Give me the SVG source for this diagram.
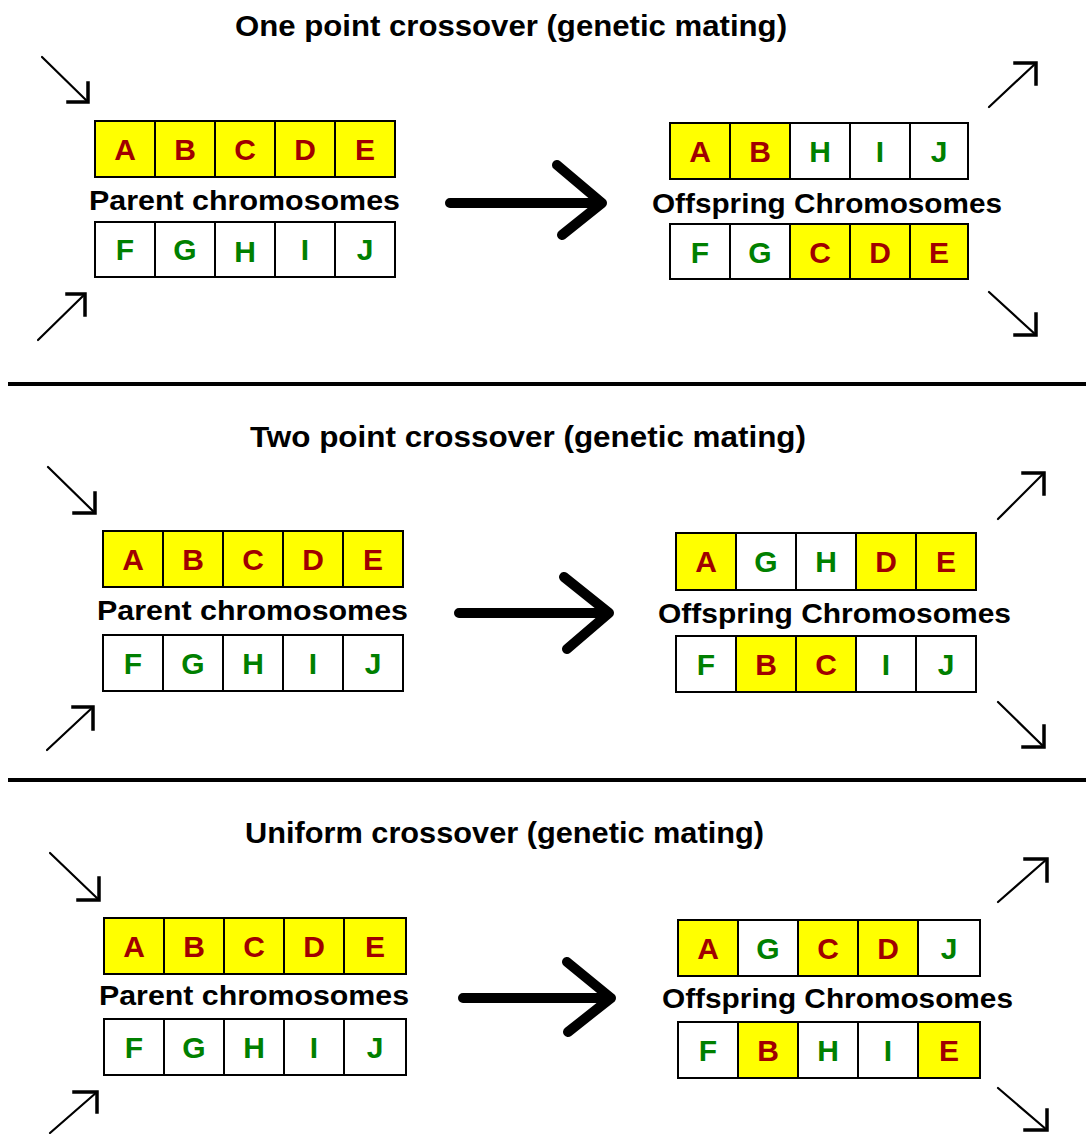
<svg xmlns="http://www.w3.org/2000/svg" width="1086" height="1134" viewBox="0 0 1086 1134">
  <style>
    .title { font-family: "Liberation Sans", Arial, sans-serif; font-weight: bold; font-size: 29px; fill: #000; }
    .label { font-family: "Liberation Sans", Arial, sans-serif; font-weight: bold; font-size: 28px; fill: #000; }
    .cell { stroke: #000; stroke-width: 2; }
    .y { fill: #ffff00; }
    .w { fill: #ffffff; }
    .gene { font-family: "Liberation Sans", Arial, sans-serif; font-weight: bold; font-size: 30px; text-anchor: middle; }
    .r { fill: #a00000; }
    .g { fill: #008000; }
    .shaft { fill: none; stroke: #000; stroke-width: 2.2; stroke-linecap: round; }
    .head { fill: none; stroke: #000; stroke-width: 3.5; stroke-linecap: square; }
    .big { fill: none; stroke: #000; stroke-width: 10; stroke-linecap: round; stroke-linejoin: round; }
    .sep { stroke: #000; stroke-width: 4; }
  </style>
  <rect width="1086" height="1134" fill="#fff"/>

  <!-- section titles -->
  <g id="titles">
    <text id="title-one" class="title" x="235" y="36" textLength="552" lengthAdjust="spacingAndGlyphs">One point crossover (genetic mating)</text>
    <text id="title-two" class="title" x="250" y="447" textLength="556" lengthAdjust="spacingAndGlyphs">Two point crossover (genetic mating)</text>
    <text id="title-uniform" class="title" x="245" y="843" textLength="519" lengthAdjust="spacingAndGlyphs">Uniform crossover (genetic mating)</text>
  </g>

  <!-- separators between the three examples -->
  <g id="separators">
    <line class="sep" x1="8" y1="384" x2="1086" y2="384"/>
    <line class="sep" x1="8" y1="780" x2="1086" y2="780"/>
  </g>

  <!-- ===== One point crossover ===== -->
  <g id="one-parent-a" transform="translate(95,121)">
    <rect class="cell y" x="0" y="0" width="60" height="56"/><rect class="cell y" x="60" y="0" width="60" height="56"/><rect class="cell y" x="120" y="0" width="60" height="56"/><rect class="cell y" x="180" y="0" width="60" height="56"/><rect class="cell y" x="240" y="0" width="60" height="56"/>
    <text class="gene r" x="30" y="39">A</text><text class="gene r" x="90" y="39">B</text><text class="gene r" x="150" y="39">C</text><text class="gene r" x="210" y="39">D</text><text class="gene r" x="270" y="39">E</text>
  </g>
  <text id="one-parent-label" class="label" x="89" y="210" textLength="311" lengthAdjust="spacingAndGlyphs">Parent chromosomes</text>
  <g id="one-parent-b" transform="translate(95,222)">
    <rect class="cell w" x="0" y="0" width="60" height="55"/><rect class="cell w" x="60" y="0" width="60" height="55"/><rect class="cell w" x="120" y="0" width="60" height="55"/><rect class="cell w" x="180" y="0" width="60" height="55"/><rect class="cell w" x="240" y="0" width="60" height="55"/>
    <text class="gene g" x="30" y="38">F</text><text class="gene g" x="90" y="38">G</text><text class="gene g" x="150" y="40">H</text><text class="gene g" x="210" y="38">I</text><text class="gene g" x="270" y="38">J</text>
  </g>
  <g id="one-child-a" transform="translate(670,123)">
    <rect class="cell y" x="0" y="0" width="60" height="56"/><rect class="cell y" x="60" y="0" width="60" height="56"/><rect class="cell w" x="120" y="0" width="60" height="56"/><rect class="cell w" x="180" y="0" width="60" height="56"/><rect class="cell w" x="240" y="0" width="58" height="56"/>
    <text class="gene r" x="30" y="39">A</text><text class="gene r" x="90" y="39">B</text><text class="gene g" x="150" y="39">H</text><text class="gene g" x="210" y="39">I</text><text class="gene g" x="269" y="39">J</text>
  </g>
  <text id="one-child-label" class="label" x="652" y="213" textLength="350" lengthAdjust="spacingAndGlyphs">Offspring Chromosomes</text>
  <g id="one-child-b" transform="translate(670,224)">
    <rect class="cell w" x="0" y="0" width="60" height="55"/><rect class="cell w" x="60" y="0" width="60" height="55"/><rect class="cell y" x="120" y="0" width="60" height="55"/><rect class="cell y" x="180" y="0" width="60" height="55"/><rect class="cell y" x="240" y="0" width="58" height="55"/>
    <text class="gene g" x="30" y="39">F</text><text class="gene g" x="90" y="39">G</text><text class="gene r" x="150" y="39">C</text><text class="gene r" x="210" y="39">D</text><text class="gene r" x="269" y="39">E</text>
  </g>

  <!-- ===== Two point crossover ===== -->
  <g id="two-parent-a" transform="translate(103,531)">
    <rect class="cell y" x="0" y="0" width="60" height="56"/><rect class="cell y" x="60" y="0" width="60" height="56"/><rect class="cell y" x="120" y="0" width="60" height="56"/><rect class="cell y" x="180" y="0" width="60" height="56"/><rect class="cell y" x="240" y="0" width="60" height="56"/>
    <text class="gene r" x="30" y="39">A</text><text class="gene r" x="90" y="39">B</text><text class="gene r" x="150" y="39">C</text><text class="gene r" x="210" y="39">D</text><text class="gene r" x="270" y="39">E</text>
  </g>
  <text id="two-parent-label" class="label" x="97" y="620" textLength="311" lengthAdjust="spacingAndGlyphs">Parent chromosomes</text>
  <g id="two-parent-b" transform="translate(103,635)">
    <rect class="cell w" x="0" y="0" width="60" height="56"/><rect class="cell w" x="60" y="0" width="60" height="56"/><rect class="cell w" x="120" y="0" width="60" height="56"/><rect class="cell w" x="180" y="0" width="60" height="56"/><rect class="cell w" x="240" y="0" width="60" height="56"/>
    <text class="gene g" x="30" y="39">F</text><text class="gene g" x="90" y="39">G</text><text class="gene g" x="150" y="39">H</text><text class="gene g" x="210" y="39">I</text><text class="gene g" x="270" y="39">J</text>
  </g>
  <g id="two-child-a" transform="translate(676,533)">
    <rect class="cell y" x="0" y="0" width="60" height="57"/><rect class="cell w" x="60" y="0" width="60" height="57"/><rect class="cell w" x="120" y="0" width="60" height="57"/><rect class="cell y" x="180" y="0" width="60" height="57"/><rect class="cell y" x="240" y="0" width="60" height="57"/>
    <text class="gene r" x="30" y="39">A</text><text class="gene g" x="90" y="39">G</text><text class="gene g" x="150" y="39">H</text><text class="gene r" x="210" y="39">D</text><text class="gene r" x="270" y="39">E</text>
  </g>
  <text id="two-child-label" class="label" x="658" y="623" textLength="353" lengthAdjust="spacingAndGlyphs">Offspring Chromosomes</text>
  <g id="two-child-b" transform="translate(676,636)">
    <rect class="cell w" x="0" y="0" width="60" height="56"/><rect class="cell y" x="60" y="0" width="60" height="56"/><rect class="cell y" x="120" y="0" width="60" height="56"/><rect class="cell w" x="180" y="0" width="60" height="56"/><rect class="cell w" x="240" y="0" width="60" height="56"/>
    <text class="gene g" x="30" y="39">F</text><text class="gene r" x="90" y="39">B</text><text class="gene r" x="150" y="39">C</text><text class="gene g" x="210" y="39">I</text><text class="gene g" x="270" y="39">J</text>
  </g>

  <!-- ===== Uniform crossover ===== -->
  <g id="uni-parent-a" transform="translate(104,918)">
    <rect class="cell y" x="0" y="0" width="60" height="56"/><rect class="cell y" x="60" y="0" width="60" height="56"/><rect class="cell y" x="120" y="0" width="60" height="56"/><rect class="cell y" x="180" y="0" width="60" height="56"/><rect class="cell y" x="240" y="0" width="62" height="56"/>
    <text class="gene r" x="30" y="39">A</text><text class="gene r" x="90" y="39">B</text><text class="gene r" x="150" y="39">C</text><text class="gene r" x="210" y="39">D</text><text class="gene r" x="271" y="39">E</text>
  </g>
  <text id="uni-parent-label" class="label" x="99" y="1005" textLength="310" lengthAdjust="spacingAndGlyphs">Parent chromosomes</text>
  <g id="uni-parent-b" transform="translate(104,1019)">
    <rect class="cell w" x="0" y="0" width="60" height="56"/><rect class="cell w" x="60" y="0" width="60" height="56"/><rect class="cell w" x="120" y="0" width="60" height="56"/><rect class="cell w" x="180" y="0" width="60" height="56"/><rect class="cell w" x="240" y="0" width="62" height="56"/>
    <text class="gene g" x="30" y="39">F</text><text class="gene g" x="90" y="39">G</text><text class="gene g" x="150" y="39">H</text><text class="gene g" x="210" y="39">I</text><text class="gene g" x="271" y="39">J</text>
  </g>
  <g id="uni-child-a" transform="translate(678,920)">
    <rect class="cell y" x="0" y="0" width="60" height="56"/><rect class="cell w" x="60" y="0" width="60" height="56"/><rect class="cell y" x="120" y="0" width="60" height="56"/><rect class="cell y" x="180" y="0" width="60" height="56"/><rect class="cell w" x="240" y="0" width="62" height="56"/>
    <text class="gene r" x="30" y="39">A</text><text class="gene g" x="90" y="39">G</text><text class="gene r" x="150" y="39">C</text><text class="gene r" x="210" y="39">D</text><text class="gene g" x="271" y="39">J</text>
  </g>
  <text id="uni-child-label" class="label" x="662" y="1008" textLength="351" lengthAdjust="spacingAndGlyphs">Offspring Chromosomes</text>
  <g id="uni-child-b" transform="translate(678,1022)">
    <rect class="cell w" x="0" y="0" width="60" height="56"/><rect class="cell y" x="60" y="0" width="60" height="56"/><rect class="cell w" x="120" y="0" width="60" height="56"/><rect class="cell w" x="180" y="0" width="60" height="56"/><rect class="cell y" x="240" y="0" width="62" height="56"/>
    <text class="gene g" x="30" y="39">F</text><text class="gene r" x="90" y="39">B</text><text class="gene g" x="150" y="39">H</text><text class="gene g" x="210" y="39">I</text><text class="gene r" x="271" y="39">E</text>
  </g>

  <!-- connectors: mating arrows and the in/out diagonal arrows -->
  <g id="connectors">
    <path class="big" d="M450 203 H602 M557 165 L602 203 L562 235"/>
    <path class="big" d="M459 613 H609 M564 577 L609 613 L567 649"/>
    <path class="big" d="M463 998 H611 M567 962 L611 998 L568 1032"/>

    <!-- one point -->
    <path class="shaft" d="M42 57 L88 102"/><path class="head" d="M68 102 H88 V83"/>
    <path class="shaft" d="M38 340 L85 294"/><path class="head" d="M67 294 H85 V315"/>
    <path class="shaft" d="M989 107 L1036 63"/><path class="head" d="M1015 63 H1036 V84"/>
    <path class="shaft" d="M989 292 L1036 335"/><path class="head" d="M1036 314 V335 H1015"/>

    <!-- two point -->
    <path class="shaft" d="M48 467 L95 513"/><path class="head" d="M74 513 H95 V493"/>
    <path class="shaft" d="M47 750 L93 707"/><path class="head" d="M73 707 H93 V729"/>
    <path class="shaft" d="M998 519 L1044 473"/><path class="head" d="M1023 473 H1044 V494"/>
    <path class="shaft" d="M998 702 L1044 747"/><path class="head" d="M1044 726 V747 H1023"/>

    <!-- uniform -->
    <path class="shaft" d="M50 853 L99 900"/><path class="head" d="M78 900 H99 V878"/>
    <path class="shaft" d="M50 1133 L97 1092"/><path class="head" d="M74 1092 H97 V1112"/>
    <path class="shaft" d="M998 902 L1047 859"/><path class="head" d="M1025 859 H1047 V881"/>
    <path class="shaft" d="M998 1088 L1047 1130"/><path class="head" d="M1047 1110 V1130 H1025"/>
  </g>
</svg>
